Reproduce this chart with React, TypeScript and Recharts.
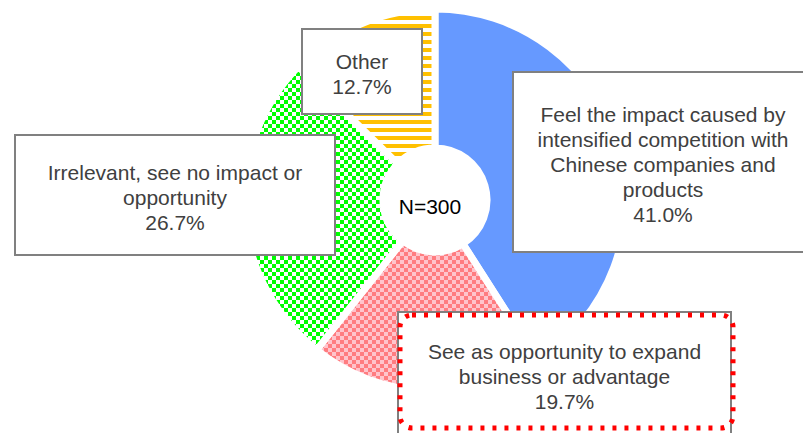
import { PieChart, Pie, Cell } from 'recharts';

const CATEGORIES = [
  'Feel the impact caused by intensified competition with Chinese companies and products',
  'See as opportunity to expand business or advantage',
  'Irrelevant, see no impact or opportunity',
  'Other',
];
const SHARES = [41.0, 19.7, 26.7, 12.7];
const SAMPLE_LABEL = 'N=300';

const FILLS = ['#6699ff', 'url(#pinkCheck)', 'url(#greenCheck)', 'url(#yellowStripe)'];

// label boxes, same order as CATEGORIES
const BOXES = [
  { left: 512, top: 71, width: 302, height: 182 },
  { left: 397, top: 311, width: 335, height: 140 },
  { left: 14, top: 134, width: 322, height: 122 },
  { left: 301, top: 28, width: 122, height: 87 },
];
const LINE_BREAKS = [
  ['Feel the impact caused by', 'intensified competition with', 'Chinese companies and', 'products'],
  ['See as opportunity to expand', 'business or advantage'],
  ['Irrelevant, see no impact or', 'opportunity'],
  ['Other'],
];
const TEXT_TOP = [102, 339, 160, 49];

const data = CATEGORIES.map((name, i) => ({ name, value: SHARES[i] }));

const FONT = '"Liberation Sans", Arial, sans-serif';

export default function App() {
  return (
    <div style={{ position: 'absolute', left: 0, top: 0, width: 803, height: 433, overflow: 'hidden', background: '#fff' }}>
      <svg width={0} height={0} style={{ position: 'absolute' }}>
        <defs>
          <pattern id="greenCheck" width={8} height={8} patternUnits="userSpaceOnUse">
            <rect width={8} height={8} fill="#fff" />
            <rect width={4} height={4} fill="#00ff00" />
            <rect x={4} y={4} width={4} height={4} fill="#00ff00" />
          </pattern>
          <pattern id="pinkCheck" width={8} height={8} patternUnits="userSpaceOnUse">
            <rect width={8} height={8} fill="#ffc4cc" />
            <rect width={4} height={4} fill="#ff7c80" />
            <rect x={4} y={4} width={4} height={4} fill="#ff7c80" />
          </pattern>
          <pattern id="yellowStripe" width={8} height={8} patternUnits="userSpaceOnUse">
            <rect width={8} height={8} fill="#fff" />
            <rect width={8} height={4} fill="#ffc000" />
          </pattern>
        </defs>
      </svg>

      <PieChart
        width={803}
        height={433}
        margin={{ top: 0, right: 0, bottom: 0, left: 0 }}
        style={{ position: 'absolute', left: 0, top: 0 }}
      >
        <Pie
          data={data}
          dataKey="value"
          cx={435}
          cy={200}
          innerRadius={52}
          outerRadius={191}
          startAngle={90}
          endAngle={-270}
          stroke="#fff"
          strokeWidth={7}
          isAnimationActive={false}
        >
          {data.map((d, i) => (
            <Cell key={d.name} fill={FILLS[i]} />
          ))}
        </Pie>
      </PieChart>

      <div
        style={{
          position: 'absolute', left: 380, top: 193, width: 100, textAlign: 'center',
          fontFamily: FONT, fontSize: 21, color: '#000', lineHeight: '28px',
        }}
      >
        {SAMPLE_LABEL}
      </div>

      {data.map((d, i) => {
        const b = BOXES[i];
        return (
          <div
            key={d.name}
            style={{
              position: 'absolute', left: b.left, top: b.top, width: b.width, height: b.height,
              boxSizing: 'border-box', border: '2px solid #808080', background: '#fff',
            }}
          >
            <div
              style={{
                position: 'absolute', left: -10, right: -10, top: TEXT_TOP[i] - b.top - 2,
                textAlign: 'center', fontFamily: FONT, fontSize: 21, color: '#404040', lineHeight: '25px',
                whiteSpace: 'nowrap',
              }}
            >
              {LINE_BREAKS[i].map((l) => (
                <div key={l}>{l}</div>
              ))}
              <div>{d.value.toFixed(1)}%</div>
            </div>
          </div>
        );
      })}

      <svg width={803} height={433} style={{ position: 'absolute', left: 0, top: 0, pointerEvents: 'none' }}>
        <rect
          x={400} y={315} width={333} height={113} rx={12}
          fill="none" stroke="#ff0000" strokeWidth={5} strokeDasharray="4 8"
        />
      </svg>
    </div>
  );
}
